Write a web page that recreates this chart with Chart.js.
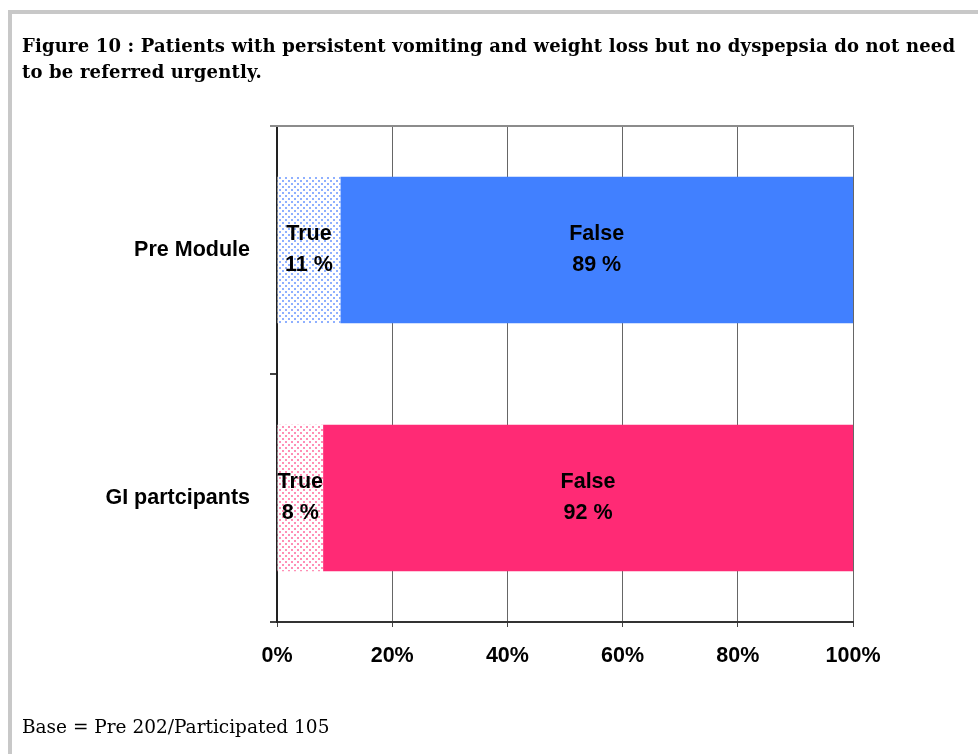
<!DOCTYPE html>
<html>
<head>
<meta charset="utf-8">
<script src="https://cdn.jsdelivr.net/npm/chart.js@4/dist/chart.umd.min.js"></script>
<style>
  html, body { margin: 0; padding: 0; background: #fff; }
  body { width: 978px; height: 754px; position: relative; overflow: hidden; }
  #frame { position: absolute; left: 8px; top: 10px; width: 980px; height: 760px;
           border-top: 4px solid #c8c8c8; border-left: 4px solid #c8c8c8; }
  #title { position: absolute; left: 22px; top: 33px; font-family: "DejaVu Serif", serif;
           font-weight: bold; font-size: 18px; line-height: 26px; color: #000; white-space: nowrap; }
  #note { position: absolute; left: 22px; top: 716px; font-family: "DejaVu Serif", serif;
          font-size: 18.5px; color: #000; white-space: nowrap; }
  #wrap { position: absolute; left: 0; top: 0; width: 978px; height: 754px; }
</style>
</head>
<body>
<div id="frame"></div>
<div id="wrap"><canvas id="chart"></canvas></div>
<div id="title">Figure 10 : Patients with persistent vomiting and weight loss but no dyspepsia do not need<br>to be referred urgently.</div>
<div id="note">Base = Pre 202/Participated 105</div>
<script>
// categories and values (percent)
const categories = ['Pre Module', 'GI partcipants'];
const trueValues = [11, 8];
const falseValues = [89, 92];
const tickLabels = ['0%', '20%', '40%', '60%', '80%', '100%'];

const solidColors = ['#4180ff', '#ff2a75'];
const dotColors = ['#8fb0ff', '#ff8fb5'];

// squeeze the title so its first line ends where the original does
const title = document.getElementById('title');
const want = 933;
const got = title.getBoundingClientRect().width;
if (got > 0) title.style.letterSpacing = ((want - got) / 89).toFixed(3) + 'px';

// dotted fill like the original "True" segments
function dotPattern(col) {
    const c = document.createElement('canvas');
    c.width = 6; c.height = 6;
    const g = c.getContext('2d');
    g.fillStyle = '#fff';
    g.fillRect(0, 0, 6, 6);
    g.fillStyle = col;
    g.fillRect(0, 0, 2, 2);
    g.fillRect(3, 3, 2, 2);
    return g.createPattern(c, 'repeat');
}

// top border line of the plot
const plotFrame = {
    id: 'plotFrame',
    afterDraw(chart) {
        const a = chart.chartArea, ctx = chart.ctx;
        ctx.save();
        ctx.strokeStyle = '#8c8c8c';
        ctx.lineWidth = 2;
        ctx.beginPath();
        ctx.moveTo(a.left - 7, a.top);
        ctx.lineTo(a.right + 1, a.top);
        ctx.stroke();
        ctx.restore();
    }
};

// "True / 11 %" labels centred in each segment
const segLabels = {
    id: 'segLabels',
    afterDatasetsDraw(chart) {
        const ctx = chart.ctx;
        ctx.save();
        ctx.font = 'bold 21.5px "Liberation Sans", Arial, sans-serif';
        ctx.fillStyle = '#000';
        ctx.textAlign = 'center';
        ctx.textBaseline = 'middle';
        chart.data.datasets.forEach((ds, di) => {
            chart.getDatasetMeta(di).data.forEach((bar, i) => {
                const x = (bar.base + bar.x) / 2;
                ctx.fillText(ds.label, x, bar.y - 16);
                ctx.fillText(ds.data[i] + ' %', x, bar.y + 15);
            });
        });
        ctx.restore();
    }
};

const axisFont = { family: '"Liberation Sans", Arial, sans-serif', size: 21.5, weight: 'bold' };

new Chart(document.getElementById('chart'), {
    type: 'bar',
    data: {
        labels: categories,
        datasets: [
            { label: 'True', data: trueValues, backgroundColor: dotColors.map(dotPattern) },
            { label: 'False', data: falseValues, backgroundColor: solidColors }
        ]
    },
    options: {
        indexAxis: 'y',
        responsive: true,
        maintainAspectRatio: false,
        animation: false,
        events: [],
        categoryPercentage: 1,
        barPercentage: 0.59,
        layout: { padding: { left: 0, top: 126, right: 125, bottom: 60 } },
        plugins: { legend: { display: false }, title: { display: false }, tooltip: { enabled: false } },
        scales: {
            x: {
                stacked: true,
                min: 0, max: 100,
                afterBuildTicks(s) { s.ticks = tickLabels.map((t, i) => ({ value: i * 20 })); },
                afterFit(s) { s.height = 72; },
                grid: { color: '#666', lineWidth: 1, tickLength: 5, tickColor: '#444' },
                border: { color: '#333', width: 2 },
                ticks: {
                    padding: 16,
                    color: '#000',
                    font: axisFont,
                    callback: (v, i) => tickLabels[i]
                }
            },
            y: {
                stacked: true,
                afterFit(s) { s.width = 277; },
                grid: { drawOnChartArea: false, offset: true, tickLength: 7, color: '#444', lineWidth: 2 },
                border: { color: '#222', width: 2 },
                ticks: {
                    padding: 20,
                    color: '#000',
                    font: axisFont
                }
            }
        }
    },
    plugins: [plotFrame, segLabels]
});
</script>
</body>
</html>
